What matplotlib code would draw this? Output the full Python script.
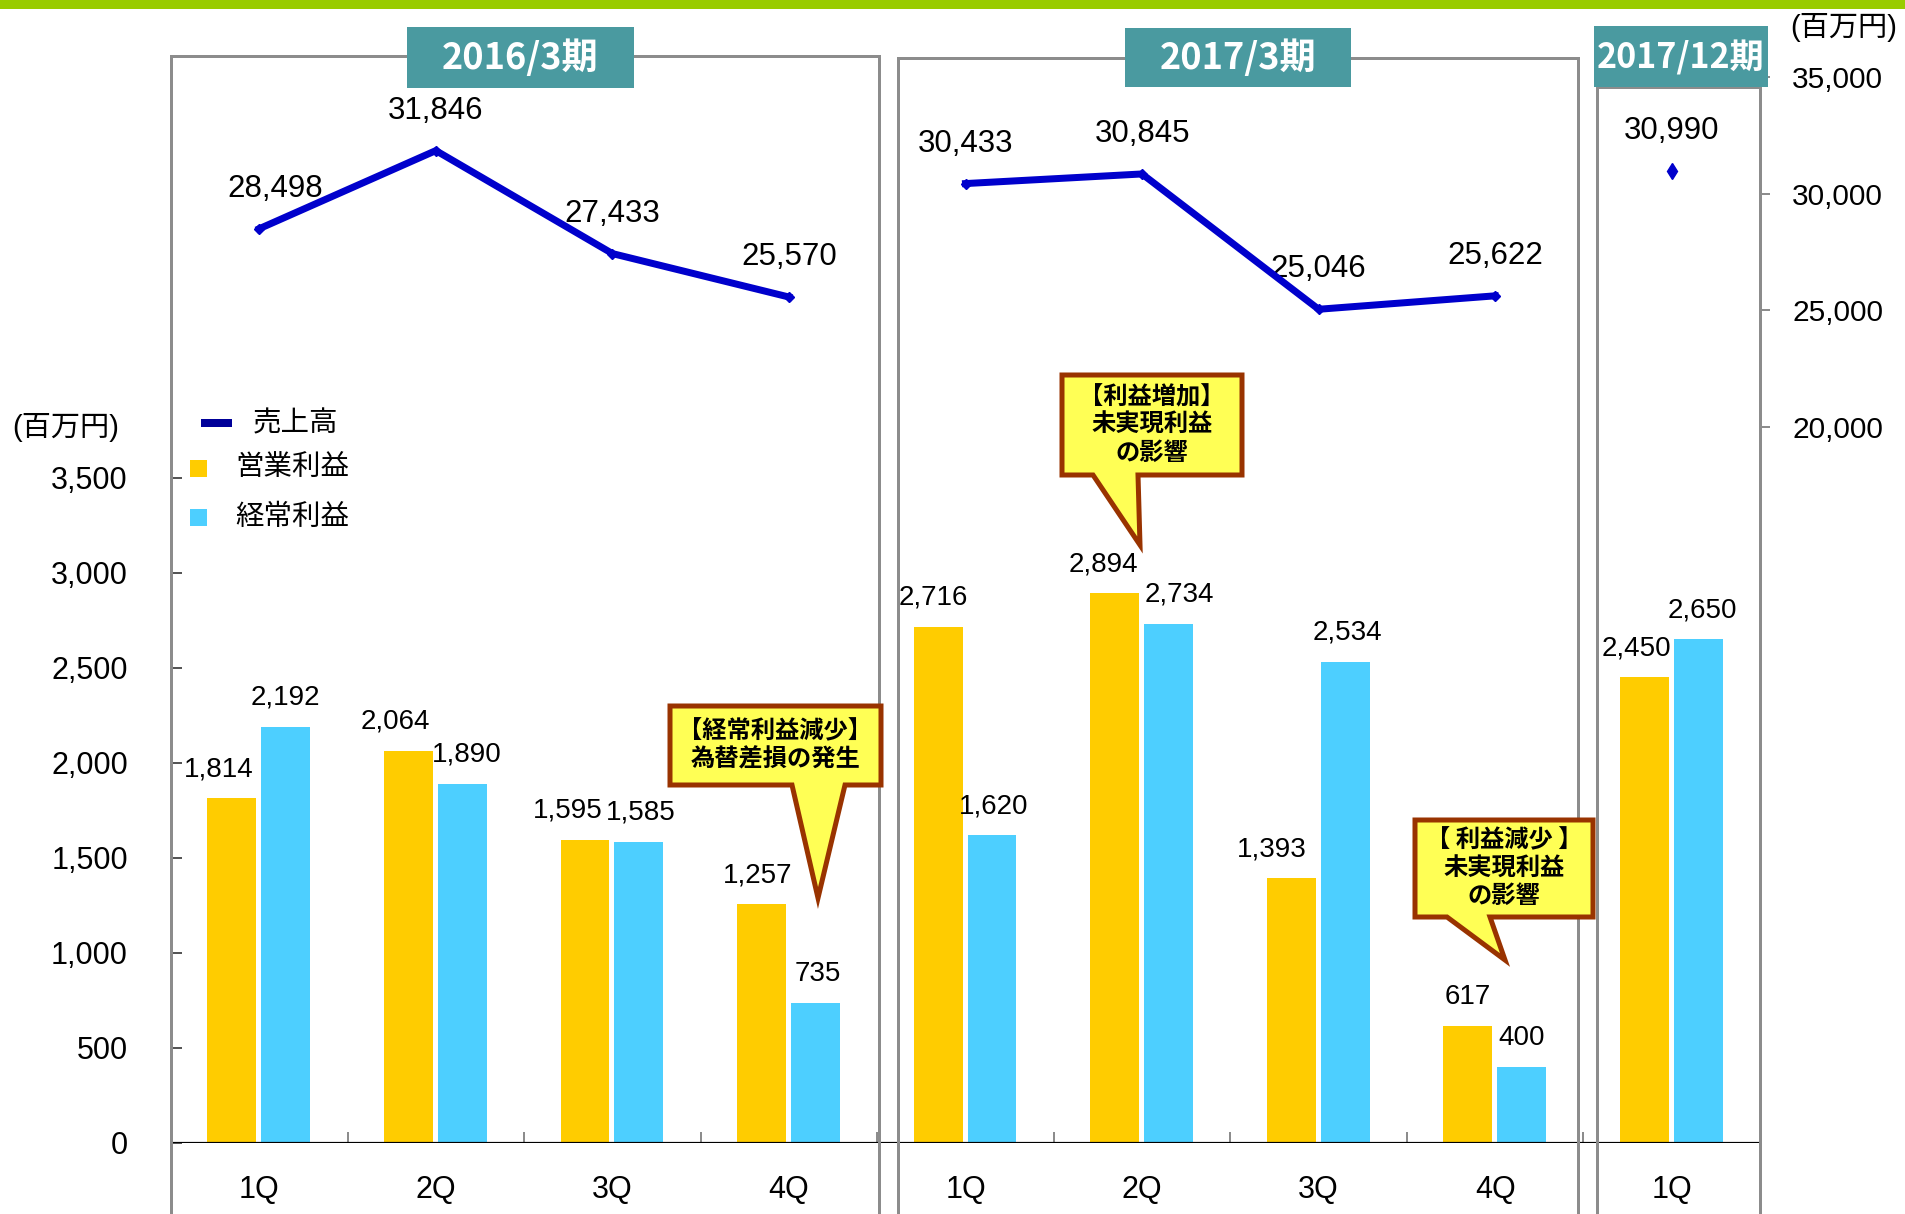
import matplotlib
matplotlib.use('Agg')
import matplotlib.pyplot as plt
from matplotlib.patches import Rectangle, Polygon
from matplotlib.lines import Line2D
import numpy as np

plt.rcParams['font.family'] = ['Liberation Sans', 'Noto Sans CJK JP', 'DejaVu Sans']

# ---------------- data ----------------
categories = ['1Q', '2Q', '3Q', '4Q', '1Q', '2Q', '3Q', '4Q', '1Q']
periods = ['2016/3期', '2017/3期', '2017/12期']
period_of = [0, 0, 0, 0, 1, 1, 1, 1, 2]
sales = [28498, 31846, 27433, 25570, 30433, 30845, 25046, 25622, 30990]
op_profit = [1814, 2064, 1595, 1257, 2716, 2894, 1393, 617, 2450]
ord_profit = [2192, 1890, 1585, 735, 1620, 2734, 2534, 400, 2650]
left_ticks = [0, 500, 1000, 1500, 2000, 2500, 3000, 3500]
right_ticks = [20000, 25000, 30000, 35000]
series_names = ['売上高', '営業利益', '経常利益']
unit_label = '(百万円)'
callout_texts = ['【経常利益減少】\n為替差損の発生',
                 '【利益増加】\n未実現利益\nの影響',
                 '【 利益減少 】\n未実現利益\nの影響']

# label nudges (pixels)
op_dx = [-13, -13, -17, -4, -5, -11, -19, 0, -8]
ord_dx = [0, 4, 2, 2, 2, 11, 2, 0, 4]
sales_dx = [16, 0, 0, 0, 0, 0, 0, 0, 0]

W, H = 1905, 1214
DPI = 100
PT = 72.0 / DPI  # points per pixel

def fx(x):
    return x / W

def fy(y):
    return 1 - y / H

C_ORANGE = '#FFCC00'
C_BLUE = '#4DCFFF'
C_LINE = '#0000CC'
C_TEAL = '#4A9AA0'
C_GRAY = '#8C8C8C'

fig = plt.figure(figsize=(W / DPI, H / DPI), dpi=DPI)

ax_left, ax_right, ax_bot, ax_top = 171, 1760, 1143, 40
ax = fig.add_axes([fx(ax_left), fy(ax_bot), (ax_right - ax_left) / W, (ax_bot - ax_top) / H])
ax.patch.set_visible(False)
ax2 = ax.twinx()
ax2.patch.set_visible(False)

x = np.arange(len(categories))
ax.bar(x - 0.155, op_profit, width=0.277, color=C_ORANGE, zorder=2)
ax.bar(x + 0.150, ord_profit, width=0.277, color=C_BLUE, zorder=2)

ax.set_xlim(-0.5, len(categories) - 0.5)
ax.set_ylim(0, 5805)
ax2.set_ylim(-10686, 36586)

for s in ['top', 'right', 'bottom', 'left']:
    ax.spines[s].set_visible(False)
    ax2.spines[s].set_visible(False)
ax2.spines['right'].set_visible(True)
ax2.spines['right'].set_bounds(20000, 36586)
ax2.spines['right'].set_color(C_GRAY)
ax2.spines['right'].set_linewidth(3 * PT)

ax.axhline(0, color='black', lw=2.2 * PT, zorder=3)

# x ticks
ax.set_xticks(x)
ax.set_xticklabels(categories, fontsize=22)
ax.tick_params(axis='x', which='major', length=0, pad=23)
ax.set_xticks(np.arange(0.5, len(categories) - 0.5, 1.0), minor=True)
ax.tick_params(axis='x', which='minor', direction='in', length=11 * PT, width=2 * PT, color=C_GRAY)

# left y ticks
ax.set_yticks(left_ticks)
ax.set_yticklabels([f'{v:,}' for v in left_ticks], fontsize=22)
ax.tick_params(axis='y', direction='in', length=11 * PT, width=2 * PT, color='#555555', pad=31)

# right y ticks
ax2.set_yticks(right_ticks)
ax2.set_yticklabels([f'{v:,}' for v in right_ticks], fontsize=21.5)
ax2.tick_params(axis='y', direction='out', length=10 * PT, width=2 * PT, color=C_GRAY, pad=16)

# sales lines per period
for p in range(len(periods)):
    idx = [i for i in range(len(categories)) if period_of[i] == p]
    vals = [sales[i] for i in idx]
    if len(idx) > 1:
        ax2.plot(idx, vals, color=C_LINE, lw=7 * PT, marker='D', ms=5, zorder=4,
                 solid_joinstyle='miter')
    else:
        ax2.plot(idx, vals, color=C_LINE, lw=0, marker='d', ms=8, zorder=4)

for i, v in enumerate(sales):
    ax2.annotate(f'{v:,}', xy=(i, v), xytext=(sales_dx[i] * PT, 40 * PT),
                 textcoords='offset points', ha='center', va='center', fontsize=22.5)

for i, v in enumerate(op_profit):
    ax.annotate(f'{v:,}', xy=(x[i] - 0.155, v), xytext=(op_dx[i] * PT, 29 * PT),
                textcoords='offset points', ha='center', va='center', fontsize=20)
for i, v in enumerate(ord_profit):
    ax.annotate(f'{v:,}', xy=(x[i] + 0.150, v), xytext=(ord_dx[i] * PT, 29 * PT),
                textcoords='offset points', ha='center', va='center', fontsize=20)

# ---------------- decorations in figure pixels ----------------
# top green bar
fig.patches.append(Rectangle((0, fy(9)), 1, 9 / H, transform=fig.transFigure,
                             facecolor='#99CC00', edgecolor='none', zorder=5))

# panel frames
panels = [(171, 879, 56), (898, 1578, 58), (1597, 1760, 87)]
for (l, r, t) in panels:
    fig.add_artist(Line2D([fx(l), fx(l), fx(r), fx(r)], [fy(H + 5), fy(t), fy(t), fy(H + 5)],
                          transform=fig.transFigure, color=C_GRAY, lw=3 * PT, zorder=4,
                          solid_joinstyle='miter'))

# period headers
headers = [(407, 634, 27, 88), (1125, 1351, 28, 87), (1594, 1768, 26, 87)]
hsizes = [26, 26, 24.5]
for (l, r, t, b), name, fs in zip(headers, periods, hsizes):
    fig.patches.append(Rectangle((fx(l), fy(b)), (r - l) / W, (b - t) / H,
                                 transform=fig.transFigure, facecolor=C_TEAL,
                                 edgecolor='none', zorder=6))
    fig.text(fx((l + r) / 2), fy((t + b) / 2 + 1), name, ha='center', va='center',
             color='white', fontsize=fs, fontweight='bold',
             family=['Noto Sans CJK JP'], zorder=7)

# units
fig.text(fx(12), fy(427), unit_label, ha='left', va='center', fontsize=21)
fig.text(fx(1790), fy(27), unit_label, ha='left', va='center', fontsize=21)

# legend
fig.add_artist(Line2D([fx(201), fx(232)], [fy(423), fy(423)], transform=fig.transFigure,
                      color='#000099', lw=8 * PT, solid_capstyle='butt', zorder=6))
fig.text(fx(253), fy(423), series_names[0], ha='left', va='center', fontsize=20.5,
         family=['Noto Sans CJK JP'])
for yc, col, name in [(468, C_ORANGE, series_names[1]), (517, C_BLUE, series_names[2])]:
    fig.patches.append(Rectangle((fx(190), fy(yc + 8.5)), 17 / W, 17 / H,
                                 transform=fig.transFigure, facecolor=col,
                                 edgecolor='none', zorder=6))
    fig.text(fx(235), fy(yc), name, ha='left', va='center', fontsize=20.5,
             family=['Noto Sans CJK JP'])

# callouts: box (l, r, t, b), pointer base (bl, br), tip (tx, ty)
callouts = [
    ((670, 881, 706, 785), (792, 845), (818, 898)),
    ((1062, 1242, 375, 475), (1093, 1138), (1140, 545)),
    ((1415, 1593, 820, 917), (1447, 1490), (1505, 960)),
]
for ((l, r, t, b), (bl, br), (tx, ty)), txt in zip(callouts, callout_texts):
    pts = [(l, t), (r, t), (r, b), (br, b), (tx, ty), (bl, b), (l, b)]
    fig.patches.append(Polygon([(fx(px), fy(py)) for px, py in pts], closed=True,
                               transform=fig.transFigure, facecolor='#FFFF55',
                               edgecolor='#993300', lw=5 * PT, joinstyle='miter', zorder=8))
    fig.text(fx((l + r) / 2), fy((t + b) / 2), txt, ha='center', va='center',
             fontsize=17.5, fontweight='bold', linespacing=1.2,
             family=['Noto Sans CJK JP'], zorder=9)

fig.savefig('out.png', dpi=DPI)
